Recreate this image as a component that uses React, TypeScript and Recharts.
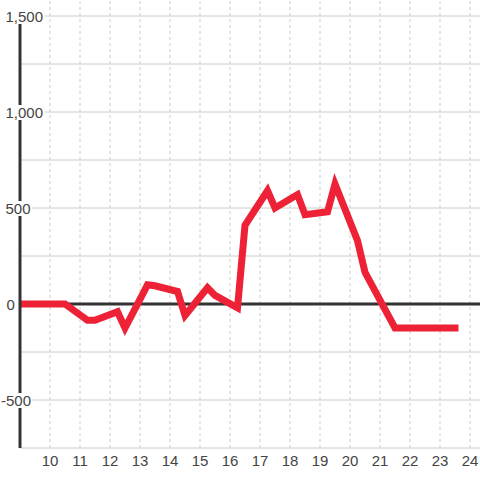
import React from 'react';
import { LineChart, Line, XAxis, YAxis, CartesianGrid, ReferenceLine } from 'recharts';

const hours = [9, 10.5, 11.25, 11.5, 12.25, 12.5, 13.25, 13.5, 14.25, 14.5, 15.25, 15.5, 16.25, 16.5, 17.25, 17.5, 18.25, 18.5, 19.25, 19.5, 20.25, 20.5, 21.5, 23.5];
const values = [0, 0, -85, -85, -40, -125, 100, 95, 65, -60, 85, 45, -20, 410, 590, 500, 570, 465, 480, 625, 330, 165, -125, -125];
const xTicks = [10, 11, 12, 13, 14, 15, 16, 17, 18, 19, 20, 21, 22, 23, 24];
const yTicks = [-750, -500, -250, 0, 250, 500, 750, 1000, 1250, 1500];
const yLabelStep = 500;
const gridTop = 1583.33;

const data = hours.map((h, i) => ({ h, v: values[i] }));

const FONT = '"Liberation Sans", Arial, sans-serif';
const FS = 15;

const fmt = (v: number) => v.toLocaleString('en-US');

const textW = (s: string) => {
  let w = 0;
  for (const c of s) {
    if (c === ',') w += 0.278 * FS;
    else if (c === '-') w += 0.333 * FS;
    else w += 0.556 * FS;
  }
  return w;
};

const YTick = (props: any) => {
  const { y, payload } = props;
  const v = payload.value as number;
  if (v % yLabelStep !== 0) return null;
  const label = fmt(v);
  const tx = v === 0 ? 6.5 : v < 0 ? 1 : 5.5;
  const w = textW(label);
  return (
    <g>
      <rect x={tx - 1} y={y - 7} width={w + 2.5} height={15} fill="#fff" />
      <text x={tx} y={y + 1} dy="0.355em" textAnchor="start" fontSize={FS} fill="#444" fontFamily={FONT}>
        {label}
      </text>
    </g>
  );
};

const XTick = (props: any) => {
  const { x, payload } = props;
  return (
    <text x={x} y={455} dy="0.71em" textAnchor="middle" fontSize={FS} fill="#444" fontFamily={FONT}>
      {payload.value}
    </text>
  );
};

export default function App() {
  return (
    <div style={{ position: 'absolute', left: 0, top: 0, background: '#fff' }}>
      <LineChart width={480} height={480} data={data} margin={{ top: 16, right: 0, left: 0, bottom: 0 }}>
        <CartesianGrid vertical={false} stroke="#cccccc" strokeWidth={1} />
        {xTicks.map((t) => (
          <ReferenceLine
            key={t}
            segment={[{ x: t, y: -750 }, { x: t, y: gridTop }]}
            stroke="#cccccc"
            strokeDasharray="3 3"
            strokeWidth={1}
            ifOverflow="visible"
          />
        ))}
        <XAxis
          dataKey="h"
          type="number"
          domain={[9, 24.3333]}
          ticks={xTicks}
          allowDataOverflow
          axisLine={false}
          tickLine={false}
          height={32}
          tick={<XTick />}
          interval={0}
        />
        <YAxis
          type="number"
          domain={[-750, 1500]}
          ticks={yTicks}
          allowDataOverflow
          axisLine={{ stroke: '#333', strokeWidth: 3 }}
          tickLine={false}
          width={20}
          tick={<YTick />}
          interval={0}
        />
        <ReferenceLine y={0} stroke="#333" strokeWidth={3} />
        <Line
          type="linear"
          dataKey="v"
          stroke="#ee2236"
          strokeWidth={7}
          strokeLinecap="square"
          strokeLinejoin="miter"
          dot={false}
          activeDot={false}
          isAnimationActive={false}
        />
      </LineChart>
    </div>
  );
}
